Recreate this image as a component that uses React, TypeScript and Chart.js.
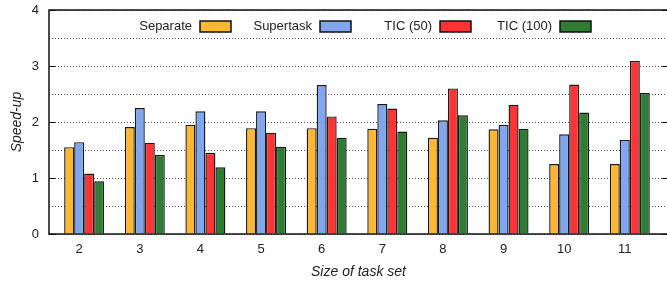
import React, { useEffect, useRef } from "react";
import { Chart, registerables } from "chart.js";

Chart.register(...registerables);

const categories = ["2", "3", "4", "5", "6", "7", "8", "9", "10", "11"];
const seriesNames = ["Separate", "Supertask", "TIC (50)", "TIC (100)"];
const separate = [1.55, 1.91, 1.95, 1.89, 1.89, 1.88, 1.72, 1.87, 1.25, 1.25];
const supertask = [1.64, 2.25, 2.19, 2.19, 2.66, 2.32, 2.03, 1.95, 1.78, 1.68];
const tic50 = [1.08, 1.63, 1.45, 1.81, 2.1, 2.24, 2.6, 2.31, 2.67, 3.09];
const tic100 = [0.94, 1.41, 1.19, 1.56, 1.72, 1.83, 2.12, 1.88, 2.17, 2.52];
const colors = ["#FDB733", "#7FA6EE", "#FF3333", "#2F7D32"];
const yMajorTicks = [0, 1, 2, 3, 4];

const FONT = "'Liberation Sans', Arial, Helvetica, sans-serif";

const framePlugin = {
  id: "frameAndLegend",
  afterDatasetsDraw(chart: any) {
    const { ctx, chartArea, scales } = chart;
    const { left, right, top, bottom } = chartArea;
    ctx.save();
    ctx.strokeStyle = "#111";
    ctx.lineWidth = 1;
    for (const v of yMajorTicks) {
      const y = Math.round(scales.y.getPixelForValue(v)) + 0.5;
      ctx.beginPath();
      ctx.moveTo(left, y);
      ctx.lineTo(left + 6, y);
      ctx.moveTo(right - 6, y);
      ctx.lineTo(right, y);
      ctx.stroke();
    }
    ctx.lineWidth = 1.5;
    ctx.strokeStyle = "#111";
    ctx.strokeRect(left, top, right - left, bottom - top);

    const items = chart.data.datasets;
    ctx.font = `13px ${FONT}`;
    ctx.textAlign = "right";
    ctx.textBaseline = "middle";
    items.forEach((ds: any, i: number) => {
      const bx = left + 151 + i * 120;
      const by = top + 11;
      ctx.fillStyle = "#222";
      ctx.fillText(ds.label, bx - 8, by + 5.5);
      ctx.fillStyle = ds.backgroundColor;
      ctx.fillRect(bx, by, 31, 11);
      ctx.lineWidth = 1.5;
      ctx.strokeStyle = "#111";
      ctx.strokeRect(bx, by, 31, 11);
    });
    ctx.restore();
  },
};

export default function App() {
  const ref = useRef<HTMLCanvasElement>(null);
  useEffect(() => {
    if (!ref.current) return;
    const seriesValues = [separate, supertask, tic50, tic100];
    const chart = new Chart(ref.current, {
      type: "bar",
      data: {
        datasets: seriesNames.map((name, s) => ({
          label: name,
          data: seriesValues[s].map((v, i) => ({ x: i, y: v })),
          backgroundColor: colors[s],
          borderColor: "#1a1a1a",
          borderWidth: 1.4,
          categoryPercentage: 0.66,
          barPercentage: 1,
        })),
      },
      options: {
        animation: false,
        responsive: true,
        maintainAspectRatio: false,
        layout: { padding: { top: 10, right: 22, left: 0, bottom: 0 } },
        plugins: { legend: { display: false }, tooltip: { enabled: false } },
        scales: {
          x: {
            type: "linear",
            offset: false,
            min: -0.58,
            max: 9.63,
            afterFit: (s: any) => {
              s.height = 50;
              s.paddingLeft = 0;
              s.paddingRight = 0;
            },
            afterBuildTicks: (s: any) => {
              s.ticks = categories.map((_, i) => ({ value: i }));
            },
            grid: { display: false, drawTicks: false },
            border: { display: false },
            ticks: {
              autoSkip: false,
              maxRotation: 0,
              padding: 8,
              labelOffset: -5,
              color: "#222",
              font: { family: FONT, size: 13 },
              callback: (v: any) =>
                Number.isInteger(v) && categories[v] !== undefined ? categories[v] : "",
            },
            title: {
              display: true,
              text: "Size of task set",
              color: "#222",
              font: { family: FONT, size: 14, style: "italic" },
              padding: { top: 0, bottom: 3 },
            },
          },
          y: {
            min: 0,
            max: 4,
            afterFit: (s: any) => {
              s.width = 49;
              s.paddingTop = 0;
              s.paddingBottom = 0;
            },
            grid: { color: "#555", lineWidth: 1, drawTicks: false },
            border: { display: false, dash: [1, 2] },
            ticks: {
              stepSize: 0.5,
              autoSkip: false,
              padding: 10,
              color: "#222",
              font: { family: FONT, size: 13 },
              callback: (v: any) => (Number.isInteger(v) ? String(v) : ""),
            },
            title: {
              display: true,
              text: "Speed-up",
              color: "#222",
              font: { family: FONT, size: 14, style: "italic" },
              padding: { top: 9, bottom: 0 },
            },
          },
        },
      },
      plugins: [framePlugin],
    });
    return () => chart.destroy();
  }, []);

  return (
    <div style={{ position: "fixed", left: 0, top: 0, width: 667, height: 284, overflow: "hidden", background: "#fff" }}>
      <div style={{ position: "relative", width: 690, height: 284 }}>
        <canvas ref={ref} />
      </div>
    </div>
  );
}
